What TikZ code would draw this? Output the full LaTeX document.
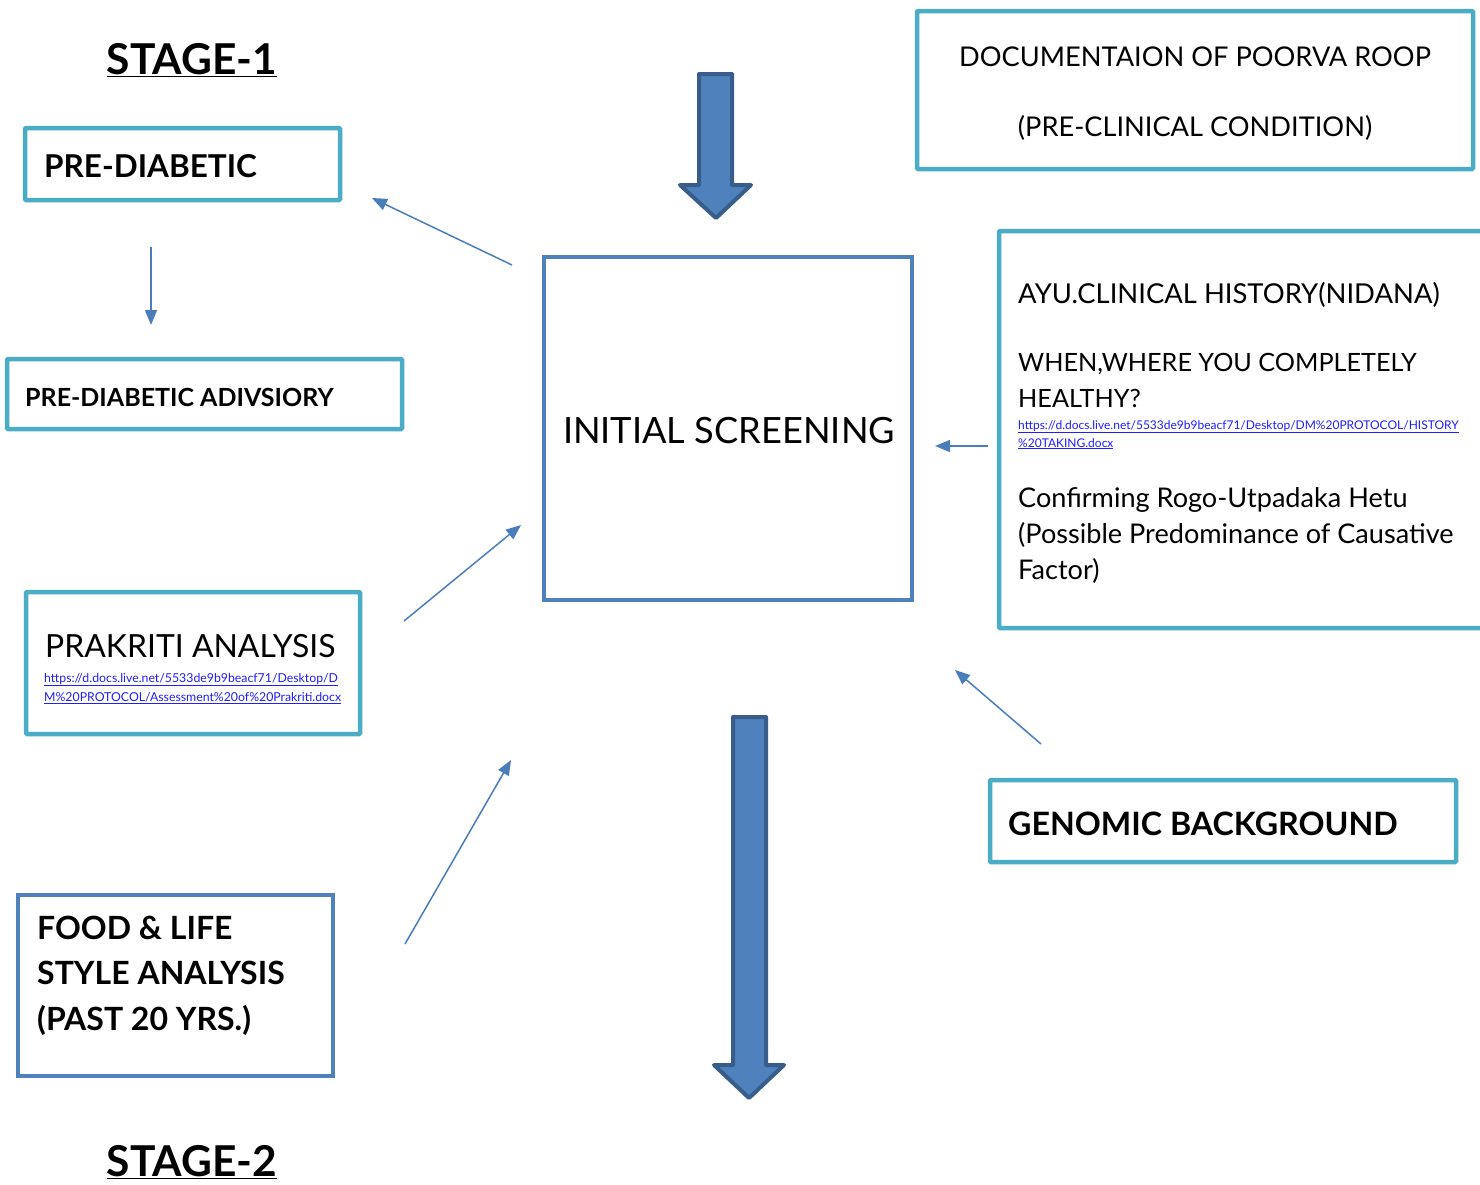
\documentclass[tikz,border=0pt]{standalone}
\usepackage{fontspec}
\setmainfont{Lato}
\usetikzlibrary{arrows.meta}
\definecolor{tealb}{HTML}{4BACC6}
\definecolor{blueb}{HTML}{4F81BD}
\definecolor{bluedark}{HTML}{385D8A}
\definecolor{thinc}{HTML}{4A7EBB}
\definecolor{linkc}{HTML}{1F1FFF}
\newcommand{\fs}[1]{\fontsize{#1}{#1}\selectfont}
\newcommand{\lnk}[1]{\textcolor{linkc}{\underline{#1}}}
\begin{document}
\begin{tikzpicture}[x=1pt,y=-1pt,
  tealbox/.style={draw=tealb, line width=4.5pt, inner sep=0pt, outer sep=0pt, anchor=north west, rounded corners=1pt},
  bluebox/.style={draw=blueb, line width=4pt, inner sep=0pt, outer sep=0pt, anchor=north west},
  conn/.style={draw=thinc, line width=1.5pt, -{Triangle[length=15pt,width=12pt]}},
  bigarrow/.style={fill=blueb, draw=bluedark, line width=4pt, line join=round},
  txt/.style={inner sep=0pt, anchor=base west, align=left},
  ctxt/.style={inner sep=0pt, anchor=base}]
\useasboundingbox (0,0) rectangle (1480,1184);
\fill[white] (0,0) rectangle (1480,1184);

% boxes
\node[tealbox, minimum width=315, minimum height=72] (pre) at (25,128) {};
\node[tealbox, minimum width=395, minimum height=70] (adv) at (7,359) {};
\node[tealbox, minimum width=556, minimum height=158] (doc) at (917,11) {};
\node[tealbox, minimum width=520, minimum height=397] (ayu) at (999,231) {};
\node[tealbox, minimum width=334, minimum height=142] (prak) at (26,592) {};
\node[tealbox, minimum width=466, minimum height=82] (gen) at (990,780) {};
\node[bluebox, minimum width=368, minimum height=343] (init) at (544,257) {};
\node[bluebox, minimum width=315, minimum height=181] (food) at (18,895) {};

% texts
\node[ctxt] (s1) at (192,74) {\fs{42.5}\bfseries\underline{STAGE-1}};
\node[ctxt] (s2) at (192,1176) {\fs{42.5}\bfseries\underline{STAGE-2}};
\node[txt] (pret) at (44,177) {\fs{31.5}\bfseries PRE-DIABETIC};
\node[txt] (advt) at (25,406) {\fs{25}\bfseries PRE-DIABETIC ADIVSIORY};
\node[ctxt] (initt) at (729,443) {\fs{36.2}INITIAL SCREENING};
\node[ctxt] (doc1) at (1195,66) {\fs{27.2}DOCUMENTAION OF POORVA ROOP};
\node[ctxt] (doc2) at (1195,136) {\fs{27.2}(PRE-CLINICAL CONDITION)};
\node[txt] (ayu1) at (1018,303) {\fs{27.4}AYU.CLINICAL HISTORY(NIDANA)};
\node[txt] (ayu2) at (1018,371) {\fs{25.2}WHEN,WHERE YOU COMPLETELY};
\node[txt] (ayu3) at (1018,407) {\fs{25.2}HEALTHY?};
\node[txt] (ayu4) at (1018,429) {\fs{12}\lnk{https://d.docs.live.net/5533de9b9beacf71/Desktop/DM\%20PROTOCOL/HISTORY}};
\node[txt] (ayu5) at (1018,447) {\fs{12}\lnk{\%20TAKING.docx}};
\node[txt] (ayu6) at (1018,507) {\fs{27.1}Confirming Rogo-Utpadaka Hetu};
\node[txt] (ayu7) at (1018,543) {\fs{27.1}(Possible Predominance of Causative};
\node[txt] (ayu8) at (1018,579) {\fs{27.1}Factor)};
\node[txt] (prak1) at (45,657) {\fs{31.9}PRAKRITI ANALYSIS};
\node[txt] (prak2) at (44,682) {\fs{12.3}\lnk{https://d.docs.live.net/5533de9b9beacf71/Desktop/D}};
\node[txt] (prak3) at (44,701) {\fs{12.3}\lnk{M\%20PROTOCOL/Assessment\%20of\%20Prakriti.docx}};
\node[txt] (gent) at (1008,835) {\fs{32.2}\bfseries GENOMIC BACKGROUND};
\node[txt] (food1) at (37,939) {\fs{32}\bfseries FOOD \& LIFE};
\node[txt] (food2) at (37,984) {\fs{32}\bfseries STYLE ANALYSIS};
\node[txt] (food3) at (37,1030) {\fs{32}\bfseries (PAST 20 YRS.)};

% big arrows
\draw[bigarrow] (699,74) -- (732,74) -- (732,185) -- (751,185) -- (716,218) -- (680,185) -- (699,185) -- cycle;
\draw[bigarrow] (733,717) -- (766,717) -- (766,1065) -- (784,1065) -- (749,1098) -- (714,1065) -- (733,1065) -- cycle;

% thin connectors
\coordinate (c1a) at (512,265); \coordinate (c1b) at (372,198);
\coordinate (c2a) at (151,247); \coordinate (c2b) at (151,325);
\coordinate (c3a) at (404,621); \coordinate (c3b) at (521,525);
\coordinate (c4a) at (988,446); \coordinate (c4b) at (935,446);
\coordinate (c5a) at (1041,744); \coordinate (c5b) at (955,670);
\coordinate (c6a) at (405,944); \coordinate (c6b) at (511,760);
\draw[conn] (c1a) -- (c1b);
\draw[conn] (c2a) -- (c2b);
\draw[conn] (c3a) -- (c3b);
\draw[conn] (c4a) -- (c4b);
\draw[conn] (c5a) -- (c5b);
\draw[conn] (c6a) -- (c6b);
\end{tikzpicture}
\end{document}
